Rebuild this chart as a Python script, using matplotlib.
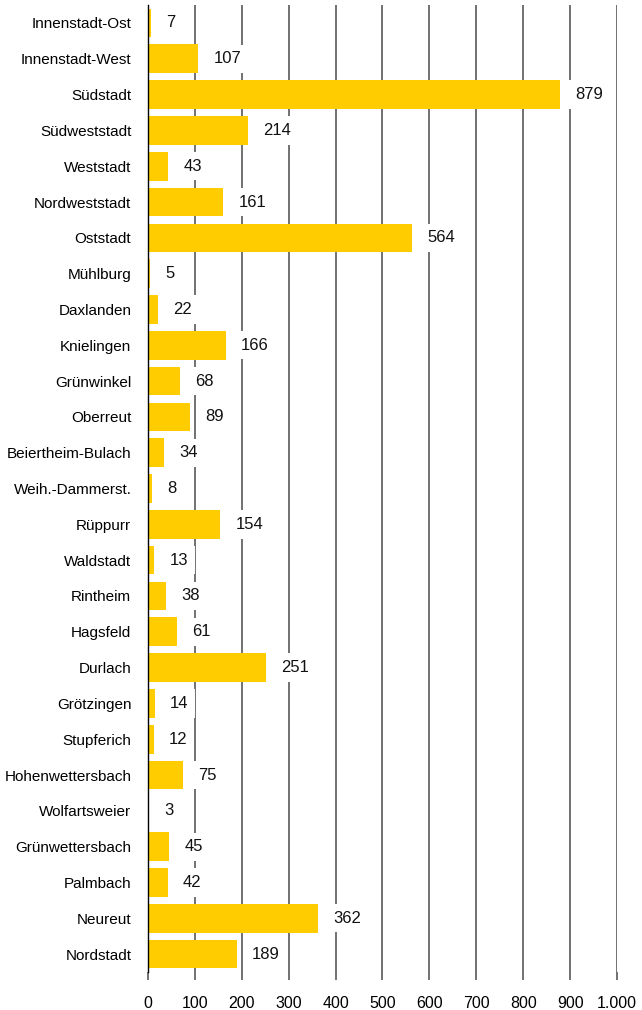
import matplotlib.pyplot as plt

districts = ["Innenstadt-Ost", "Innenstadt-West", "Südstadt", "Südweststadt", "Weststadt",
             "Nordweststadt", "Oststadt", "Mühlburg", "Daxlanden", "Knielingen", "Grünwinkel",
             "Oberreut", "Beiertheim-Bulach", "Weih.-Dammerst.", "Rüppurr", "Waldstadt",
             "Rintheim", "Hagsfeld", "Durlach", "Grötzingen", "Stupferich", "Hohenwettersbach",
             "Wolfartsweier", "Grünwettersbach", "Palmbach", "Neureut", "Nordstadt"]
values = [7, 107, 879, 214, 43, 161, 564, 5, 22, 166, 68, 89, 34, 8, 154, 13, 38, 61,
          251, 14, 12, 75, 3, 45, 42, 362, 189]
xticks = list(range(0, 1001, 100))
xticklabels = ["0", "100", "200", "300", "400", "500", "600", "700", "800", "900", "1.000"]

plt.rcParams["font.family"] = ["Liberation Sans Narrow", "Liberation Sans", "DejaVu Sans"]

fig = plt.figure(figsize=(6.42, 10.10), dpi=100)
ax = fig.add_axes([0.2305, 0.0376, 0.7305, 0.9574])

ypos = list(range(len(districts)))
ax.barh(ypos, values, height=0.8, color="#FFCC00", zorder=2)

# value labels sit in white boxes that break the grid lines
for y, v in zip(ypos, values):
    ax.annotate(str(v), xy=(v, y), xytext=(11, 0), textcoords="offset points",
                ha="left", va="center", fontsize=12, color="#111111", zorder=4,
                bbox=dict(boxstyle="square,pad=0.4", fc="white", ec="none"))

ax.set_xlim(0, 1000)
ax.set_ylim(len(districts) - 0.5, -0.5)
ax.set_xticks(xticks)
ax.set_xticklabels(xticklabels)
ax.set_yticks(ypos)
ax.set_yticklabels(districts)
ax.xaxis.grid(True, color="#666666", linewidth=1.3, zorder=1)
ax.set_axisbelow(True)
ax.tick_params(axis="x", length=6, width=1.3, color="#666666", pad=11, labelsize=11.5)
ax.tick_params(axis="y", length=0, pad=12, labelsize=11)
for side in ["top", "right", "bottom"]:
    ax.spines[side].set_visible(False)
ax.spines["left"].set_color("black")
ax.spines["left"].set_linewidth(1)
ax.spines["left"].set_zorder(3)

fig.savefig("out.png", dpi=100)
